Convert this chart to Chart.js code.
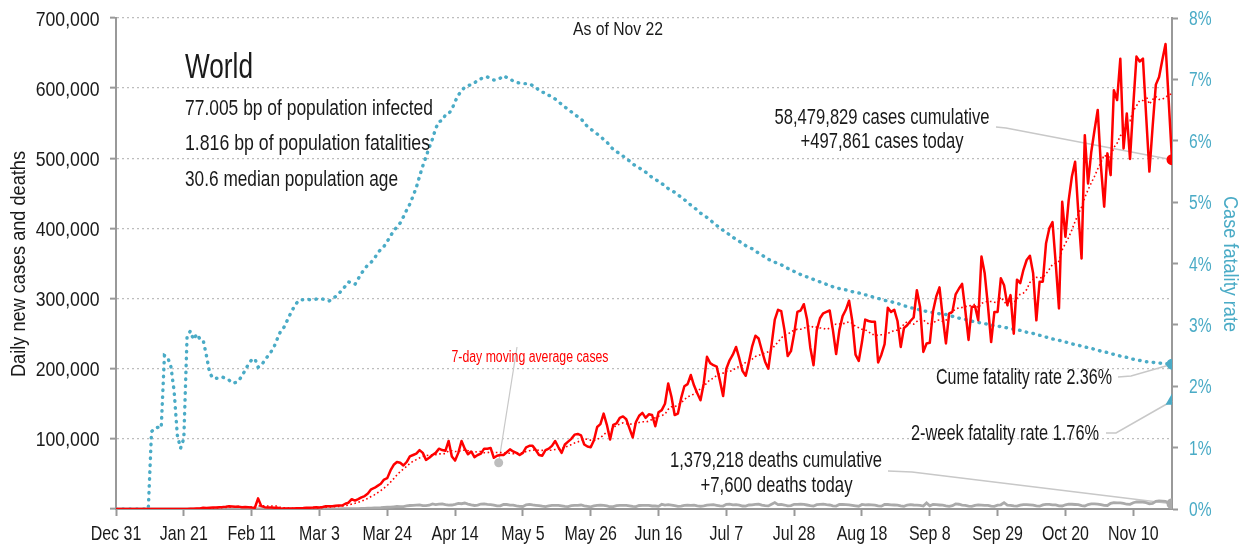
<!DOCTYPE html>
<html><head><meta charset="utf-8">
<script src="https://cdn.jsdelivr.net/npm/chart.js@4.4.1/dist/chart.umd.min.js"></script>
<style>html,body{margin:0;padding:0;background:#fff;}canvas{display:block;}</style>
</head><body>
<canvas id="c" width="1240" height="546"></canvas>
<script>
const FONT = "'Liberation Sans','Arial',sans-serif";

// x axis: day index 0 = Dec 31
const tickDays = [0,21,42,63,84,105,126,147,168,189,210,231,252,273,294,315];
const tickLabels = ["Dec 31","Jan 21","Feb 11","Mar 3","Mar 24","Apr 14","May 5","May 26","Jun 16","Jul 7","Jul 28","Aug 18","Sep 8","Sep 29","Oct 20","Nov 10"];

// daily new cases (one value per day, Dec 31 .. Nov 22)
const cases = [
27,0,0,17,0,15,0,0,0,0,
0,0,0,0,1,0,0,4,17,136,
140,150,130,260,450,690,770,1770,1460,1740,
1980,2100,2590,2830,3240,3890,3700,3150,3390,2650,
2980,2470,2020,1820,15150,4050,2640,2010,2050,1890,
1750,390,890,820,650,600,900,1100,1300,1800,
1800,2000,2400,2300,2800,4000,4000,3800,4500,5000,
5000,7500,9000,14000,12000,14000,16500,18500,22000,28000,
30000,33000,36000,42000,44000,55000,63000,67000,66000,62000,
67000,75000,77000,79000,84000,80000,70000,73000,77000,80000,
86000,84000,83000,97000,75000,69000,80000,97000,86000,78000,
82000,74000,77000,79000,86000,86000,87000,73000,76000,77000,
77000,81000,85000,82000,80000,77000,80000,88000,90000,90000,
84000,77000,76000,84000,86000,90000,97000,88000,80000,92000,
96000,100000,106000,107000,105000,92000,89000,88000,98000,117000,
121000,136000,120000,99000,120000,122000,130000,132000,128000,115000,
102000,124000,133000,137000,130000,135000,134000,118000,138000,141000,
150000,179000,160000,134000,136000,158000,175000,178000,191000,176000,
165000,155000,179000,217000,208000,205000,203000,183000,161000,200000,
212000,220000,231000,215000,197000,190000,210000,232000,247000,243000,
226000,210000,200000,234000,270000,284000,282000,255000,218000,225000,
250000,281000,283000,292000,270000,230000,205000,255000,272000,279000,
281000,283000,255000,221000,255000,275000,284000,297000,268000,220000,
211000,238000,270000,268000,267000,267000,209000,220000,235000,287000,
281000,284000,268000,231000,258000,262000,268000,273000,312000,288000,
224000,236000,237000,282000,303000,316000,274000,236000,279000,281000,
306000,314000,321000,283000,241000,288000,289000,269000,360000,336000,
290000,238000,281000,281000,329000,319000,291000,305000,250000,327000,
322000,341000,355000,361000,336000,269000,324000,324000,379000,400000,
409000,350000,286000,438000,388000,440000,474000,495000,422000,357000,
533000,464000,509000,540000,569000,488000,431000,507000,476000,597000,
583000,642000,514000,564000,499000,575000,645000,638000,642000,560000,
481000,545000,605000,616000,640000,663000,580000,498000
];

// daily new deaths
const deaths = [
0,0,0,0,0,0,0,0,0,0,
0,1,0,0,0,0,0,0,1,1,
3,8,16,15,24,26,49,2,38,42,
46,45,57,64,66,73,73,86,89,97,
108,97,254,121,143,142,105,98,139,115,
125,110,100,150,70,52,29,44,47,35,
42,60,55,70,80,100,110,200,230,220,
350,330,430,500,670,630,850,950,1100,1300,
1650,1700,1900,2400,2500,2700,3100,3600,3500,3300,
4300,5000,5300,5500,5800,4900,4800,5400,7300,6300,
7000,7400,6300,5400,5700,6700,8000,7500,8500,7000,
5800,5000,5600,7100,7300,6600,6300,5600,4400,4500,
6600,6400,5600,5400,4400,3700,3600,5900,6600,5800,
5300,4900,4000,3500,4500,5200,5100,5300,4600,3800,
3500,4800,5300,5100,5700,4600,3800,3100,4400,5100,
5600,5100,4300,3200,3300,4800,5200,5200,5100,4600,
3600,3400,5000,5300,5300,5200,4300,4300,3800,6700,
5600,6300,5500,4700,3800,4200,5200,5400,5300,5400,
4400,3900,4600,5500,5800,6100,5300,4400,4200,6700,
7000,5800,6300,5500,4300,4200,5700,5800,6700,6900,
5600,4800,4400,6800,9100,6300,6500,5700,4600,4900,
6700,6500,6900,6500,5700,4800,4200,6200,6600,6900,
6100,5700,4600,4200,6500,6400,6200,6000,5300,4600,
4000,6500,6000,6100,5800,5400,4300,4000,6400,6400,
5900,5700,5400,4300,3800,5700,6300,5700,5400,5200,
4200,8700,4600,6400,6100,5700,5400,4500,3900,4800,
7200,6800,5500,5200,4200,3800,5200,6000,5600,5300,
5200,4100,3700,5400,6000,9000,5600,5300,4300,4000,
5600,6200,6200,5900,5500,4400,4000,5800,6600,6500,
6000,5900,4600,4300,6000,6800,6800,6400,6100,4800,
4300,6400,7300,7300,7000,6200,5200,5000,8100,9200,
8800,8600,8000,6800,6600,8900,10000,10000,9800,9000,
7500,7900,11000,11400,11300,11000,8700,7600
];

// cumulative case fatality rate, percent
const cfr = [
0,0,0,0,0,0,0,0,0,0,
0,1.26,1.32,1.33,1.32,2.5,2.47,2.32,1.92,1.2,
0.99,1.15,2.8,2.9,2.76,2.85,2.77,2.75,2.5,2.22,
2.13,2.13,2.13,2.15,2.12,2.1,2.05,2.06,2.09,2.17,
2.26,2.36,2.43,2.45,2.31,2.34,2.42,2.49,2.56,2.65,
2.78,2.9,2.96,3.07,3.18,3.28,3.36,3.41,3.41,3.42,
3.41,3.41,3.42,3.41,3.42,3.41,3.39,3.43,3.46,3.51,
3.57,3.63,3.7,3.68,3.66,3.75,3.84,3.91,3.98,4.02,
4.08,4.17,4.23,4.28,4.36,4.45,4.53,4.6,4.66,4.76,
4.87,4.97,5.1,5.24,5.42,5.59,5.74,5.89,6.03,6.2,
6.31,6.33,6.42,6.44,6.51,6.64,6.74,6.82,6.87,6.9,
6.91,6.94,6.99,7.01,7.04,7.04,7.01,6.99,6.99,7.02,
7.06,7.03,7.01,6.97,6.95,6.94,6.93,6.93,6.93,6.9,
6.87,6.82,6.79,6.78,6.74,6.72,6.68,6.64,6.59,6.55,
6.51,6.47,6.43,6.39,6.36,6.29,6.23,6.19,6.15,6.11,
6.07,6.02,5.98,5.91,5.86,5.82,5.79,5.75,5.71,5.67,
5.62,5.59,5.56,5.52,5.49,5.45,5.4,5.37,5.34,5.3,
5.27,5.22,5.19,5.16,5.12,5.08,5.04,5.0,4.95,4.91,
4.87,4.82,4.79,4.75,4.71,4.66,4.62,4.58,4.54,4.5,
4.47,4.43,4.39,4.36,4.33,4.29,4.26,4.24,4.2,4.17,
4.14,4.1,4.07,4.04,4.02,4.0,3.98,3.95,3.92,3.89,
3.87,3.85,3.82,3.8,3.78,3.76,3.74,3.72,3.7,3.68,
3.66,3.65,3.62,3.61,3.59,3.58,3.57,3.56,3.54,3.53,
3.52,3.51,3.49,3.48,3.46,3.45,3.43,3.42,3.4,3.39,
3.38,3.36,3.35,3.33,3.31,3.3,3.28,3.27,3.26,3.24,
3.23,3.22,3.21,3.2,3.19,3.18,3.17,3.17,3.15,3.14,
3.12,3.11,3.1,3.09,3.07,3.06,3.05,3.04,3.03,3.02,
3.01,3.0,2.98,2.98,2.97,2.96,2.95,2.94,2.93,2.92,
2.91,2.9,2.88,2.87,2.86,2.84,2.83,2.82,2.8,2.79,
2.77,2.76,2.75,2.73,2.72,2.71,2.69,2.68,2.67,2.65,
2.64,2.63,2.62,2.6,2.59,2.57,2.56,2.55,2.53,2.52,
2.51,2.49,2.48,2.47,2.45,2.44,2.43,2.42,2.41,2.4,
2.4,2.39,2.38,2.38,2.37,2.37,2.36,2.36
];

const twoWeekRate = 1.76;
const maLabelAnchor = {day: 118.5, value: 66000};

const RED = '#ff0000', BLUE = '#4aabc6', GRAY = '#aaaaaa', AXIS = '#999999', INK = '#1a1a1a';
const last = cases.length - 1;

// trailing 7-day moving average of the daily cases
const casesMA = cases.map((v, i) => {
  const w = cases.slice(Math.max(0, i - 6), i + 1);
  return w.reduce((a, b) => a + b, 0) / w.length;
});
const xy = arr => arr.map((v, i) => ({x: i, y: v}));

// condensed text: horizontal scale sx, or fitted to a target width w
function txt(ctx, s, x, y, size, o = {}) {
  ctx.save();
  ctx.font = size + 'px ' + FONT;
  ctx.fillStyle = o.color || INK;
  ctx.textAlign = o.align || 'left';
  ctx.textBaseline = 'alphabetic';
  let sx = o.sx || 0.82;
  if (o.w) sx = o.w / ctx.measureText(s).width;
  ctx.translate(x, y);
  if (o.rot) ctx.rotate(o.rot);
  ctx.scale(sx, 1);
  ctx.fillText(s, 0, 0);
  ctx.restore();
}
function poly(ctx, pts, color, w) {
  ctx.save();
  ctx.strokeStyle = color; ctx.lineWidth = w;
  ctx.beginPath();
  pts.forEach((p, i) => i ? ctx.lineTo(p[0], p[1]) : ctx.moveTo(p[0], p[1]));
  ctx.stroke();
  ctx.restore();
}

const annot = {
  id: 'annot',
  beforeDatasetsDraw(chart) {
    const {ctx, scales: {x, y, y1}} = chart;
    const L = '#c8c8c8';
    const ex = x.getPixelForValue(last);
    poly(ctx, [[996, 127], [1006, 128], [ex, y.getPixelForValue(cases[last])]], L, 1.5);
    poly(ctx, [[1118, 377], [1131, 376], [ex, y1.getPixelForValue(cfr[last])]], L, 1.5);
    poly(ctx, [[1106, 433], [1116, 433], [ex, y1.getPixelForValue(twoWeekRate)]], L, 1.5);
    poly(ctx, [[888, 471], [912, 472], [ex, y.getPixelForValue(deaths[last])]], L, 1.5);
    const ax = x.getPixelForValue(maLabelAnchor.day), ay = y.getPixelForValue(maLabelAnchor.value);
    poly(ctx, [[517, 347], [ax, ay]], L, 1.2);
  },
  afterDraw(chart) {
    const {ctx, scales: {x, y, y1}} = chart;
    const ax = x.getPixelForValue(maLabelAnchor.day), ay = y.getPixelForValue(maLabelAnchor.value);
    ctx.save(); ctx.fillStyle = '#bdbdbd'; ctx.beginPath(); ctx.arc(ax, ay, 4.5, 0, Math.PI * 2); ctx.fill(); ctx.restore();

    // axis tick labels (condensed)
    y.ticks.forEach(t => {
      if (t.value === 0) return;
      txt(ctx, t.value.toLocaleString('en-US'), 99.5, y.getPixelForValue(t.value) + 7.5, 21, {align: 'right', sx: 0.84});
    });
    y1.ticks.forEach(t => {
      txt(ctx, t.value + '%', 1189, y1.getPixelForValue(t.value) + 7, 19.5, {sx: 0.8, color: BLUE});
    });
    tickDays.forEach((d, i) => {
      txt(ctx, tickLabels[i], x.getPixelForValue(d), 539.5, 21, {align: 'center', sx: 0.76});
    });

    // annotations
    txt(ctx, 'As of Nov 22', 618, 35, 18, {align: 'center', w: 90});
    txt(ctx, 'World', 185, 78, 35, {w: 68});
    txt(ctx, '77.005 bp of population infected', 185, 115, 22, {w: 248});
    txt(ctx, '1.816 bp of population fatalities', 185, 150, 22, {w: 245});
    txt(ctx, '30.6 median population age', 185, 186, 22, {w: 213});
    txt(ctx, '58,479,829 cases cumulative', 882, 124, 22, {align: 'center', w: 215});
    txt(ctx, '+497,861 cases today', 882, 148, 22, {align: 'center', w: 163});
    txt(ctx, 'Cume fatality rate 2.36%', 1112, 384, 22, {align: 'right', w: 176});
    txt(ctx, '2-week fatality rate 1.76%', 1099, 440, 22, {align: 'right', w: 188});
    txt(ctx, '1,379,218 deaths cumulative', 776, 467, 22, {align: 'center', w: 212});
    txt(ctx, '+7,600 deaths today', 776.5, 492, 22, {align: 'center', w: 152});
    txt(ctx, '7-day moving average cases', 530, 362, 16, {align: 'center', w: 157, color: RED});
    txt(ctx, 'Daily new cases and deaths', 25, 264, 20, {align: 'center', rot: -Math.PI / 2, w: 226});
    txt(ctx, 'Case fatality rate', 1223.5, 264, 20, {align: 'center', rot: Math.PI / 2, w: 136, color: BLUE});
  }
};

const HIDE = 'rgba(0,0,0,0)';
new Chart(document.getElementById('c'), {
  type: 'line',
  data: {
    datasets: [
      {data: [{x: last, y: cases[last]}], yAxisID: 'y', showLine: false, pointRadius: 5.5, pointBackgroundColor: RED, pointBorderWidth: 0},
      {data: [{x: last, y: cfr[last]}], yAxisID: 'y1', showLine: false, pointRadius: 5.5, pointBackgroundColor: BLUE, pointBorderWidth: 0},
      {data: [{x: last, y: twoWeekRate}], yAxisID: 'y1', showLine: false, pointStyle: 'triangle', pointRadius: 7.5, pointBackgroundColor: BLUE, pointBorderWidth: 0},
      {data: [{x: last, y: deaths[last]}], yAxisID: 'y', showLine: false, pointRadius: 5.5, pointBackgroundColor: GRAY, pointBorderWidth: 0},
      {data: xy(cases), yAxisID: 'y', borderColor: RED, borderWidth: 2.5, pointRadius: 0, tension: 0, borderJoinStyle: 'round'},
      {data: xy(casesMA), yAxisID: 'y', borderColor: RED, borderWidth: 1.6, borderDash: [1.6, 2.6], pointRadius: 0, tension: 0},
      {data: xy(deaths), yAxisID: 'y', borderColor: GRAY, borderWidth: 2.8, pointRadius: 0, tension: 0},
      {data: xy(cfr), yAxisID: 'y1', borderColor: BLUE, borderWidth: 3.4, borderDash: [0.5, 6.4], borderCapStyle: 'round', pointRadius: 0, tension: 0}
    ]
  },
  options: {
    responsive: false, animation: false, devicePixelRatio: 1,
    layout: {padding: {top: 18, left: 0, right: 0, bottom: 0}},
    plugins: {legend: {display: false}, tooltip: {enabled: false}, title: {display: false}},
    scales: {
      x: {
        type: 'linear', min: 0, max: last,
        afterBuildTicks: s => { s.ticks = tickDays.map(v => ({value: v})); },
        afterFit: s => { s.height = 37; },
        ticks: {callback: v => { const k = tickDays.indexOf(v); return k < 0 ? '' : tickLabels[k]; },
          font: {family: FONT, size: 12}, color: HIDE, padding: 3, maxRotation: 0, autoSkip: false},
        grid: {drawOnChartArea: false, drawTicks: true, tickLength: 7, tickColor: AXIS, tickWidth: 2},
        border: {display: true, color: AXIS, width: 2}
      },
      y: {
        position: 'left', min: 0, max: 700000,
        afterFit: s => { s.width = 116; },
        ticks: {stepSize: 100000, callback: v => v === 0 ? '' : v.toLocaleString('en-US'),
          font: {family: FONT, size: 12}, color: HIDE, padding: 10},
        grid: {color: '#bdbdbd', lineWidth: 1.3, drawTicks: true, tickLength: 6, tickColor: AXIS, tickWidth: 2},
        border: {display: true, color: AXIS, width: 2, dash: [2, 3]}
      },
      y1: {
        position: 'right', min: 0, max: 8,
        afterFit: s => { s.width = 68; },
        ticks: {stepSize: 1, callback: v => v + '%', font: {family: FONT, size: 12}, color: HIDE, padding: 10},
        grid: {drawOnChartArea: false, drawTicks: true, tickLength: 6, tickColor: AXIS, tickWidth: 2},
        border: {display: true, color: AXIS, width: 2}
      }
    }
  },
  plugins: [annot]
});
</script>
</body></html>
